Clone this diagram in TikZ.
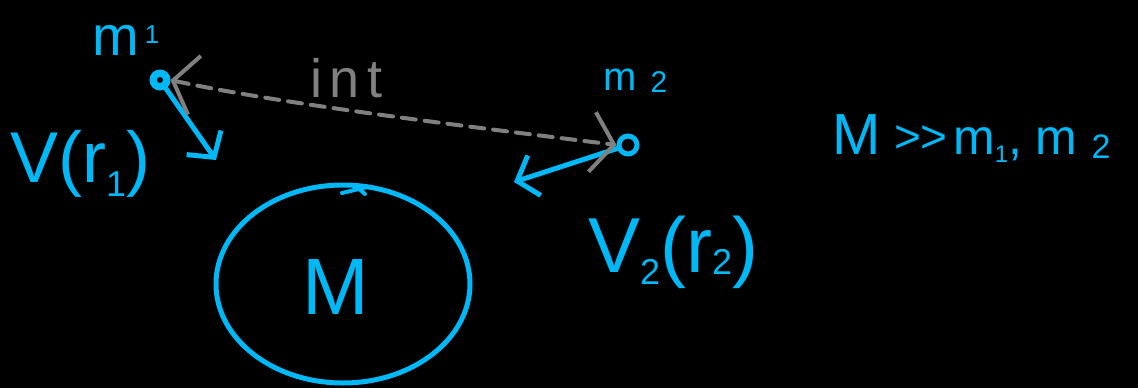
\documentclass[tikz,border=0pt]{standalone}
\usepackage{fontspec}
\setmainfont{Liberation Sans}
\usetikzlibrary{arrows.meta,shapes.geometric}
\definecolor{ink}{RGB}{0,184,245}
\definecolor{pencil}{RGB}{128,128,128}
\tikzset{
  hand/.style={text=ink, inner sep=0pt, anchor=base west},
  particle/.style={circle, draw=ink, line width=5pt, minimum size=16pt, inner sep=0pt},
  velo/.style={draw=ink, line width=5pt, line cap=round, -{Straight Barb[length=18pt,width=42pt]}},
  force/.style={draw=pencil, line width=4pt, line cap=round, dash pattern=on 14pt off 9pt,
    {Straight Barb[length=22pt,width=60pt]}-{Straight Barb[length=22pt,width=60pt]}},
  body/.style={draw=ink, line width=5pt}
}
\newcommand{\fs}[1]{\fontsize{#1}{#1}\selectfont}
\begin{document}
\begin{tikzpicture}[x=1pt,y=-1pt]
\path[fill=black, use as bounding box] (0,0) rectangle (1138,388);

% particles
\node[particle] (m1) at (160,80) {};
\draw[ink, line width=3.5pt] (160,80) circle (5pt);
\node[particle, minimum size=18pt] (m2) at (628,145) {};

% labels of particles
\node[hand] (lm1) at (92,55) {\fs{56}m\hspace{6pt}\raisebox{12pt}{\fs{26}1}};
\node[hand] (lm2) at (603,90) {\fs{40}m\hspace{14pt}\raisebox{-2pt}{\fs{30}2}};

% velocities
\coordinate (v1) at (216,160);
\coordinate (v2) at (514,182);
\draw[velo] (m1) -- (v1);
\draw[velo] (m2) -- (v2);

% interaction
\draw[force] (m1.east) .. controls (280,104) and (480,128) .. (m2.west);
\node[text=pencil, inner sep=0pt, anchor=base west] (int) at (310,97) {\fs{54}\addfontfeatures{LetterSpace=14}int};

% potential labels
\node[hand] (V1) at (10,182) {\fs{72}V(r\raisebox{-14pt}{\fs{36}1})};
\node[hand] (V2) at (588,272) {\fs{78}V\raisebox{-12pt}{\fs{36}2}(r\raisebox{-2pt}{\fs{36}2})};

% central body
\node[body, ellipse, minimum width=254pt, minimum height=198pt, inner sep=0pt] (M) at (343,284) {};
\draw[ink, line width=4pt, line cap=round] (342,193) -- (367,187) (356,186) -- (365,194);
\node[text=ink, inner sep=0pt] (Mlab) at (336,287) {\fs{80}M};

% relation
\node[hand] (rel) at (832,154) {\fs{58}M\hspace{14pt}\raisebox{2pt}{\fs{46}>\kern-1pt>}\hspace{6pt}\fs{50}m\raisebox{-8pt}{\fs{24}1}, m\hspace{14pt}\raisebox{-4pt}{\fs{34}2}};
\end{tikzpicture}
\end{document}
